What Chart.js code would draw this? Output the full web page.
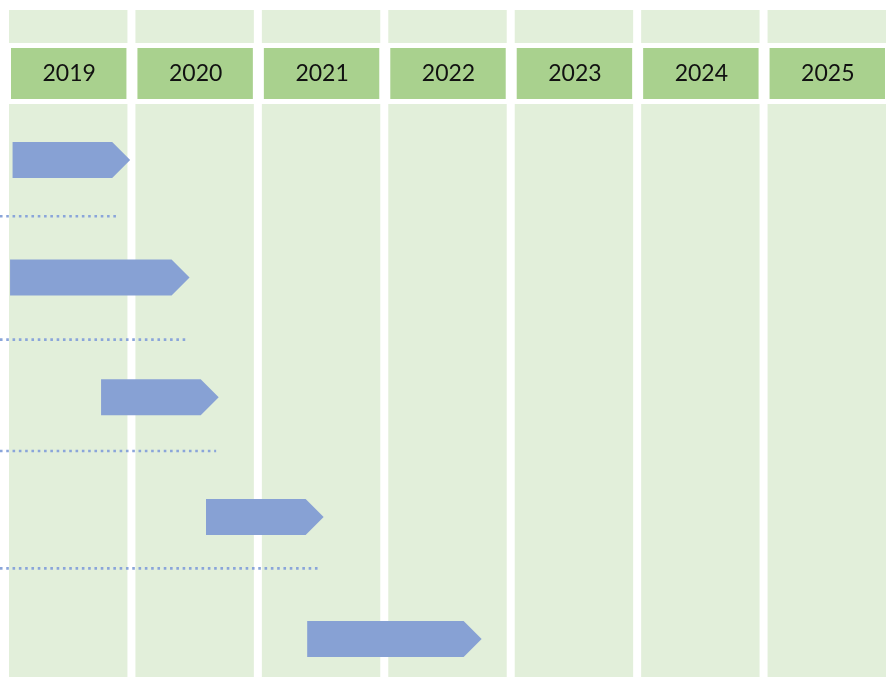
<!DOCTYPE html>
<html>
<head>
<meta charset="utf-8">
<script src="https://cdn.jsdelivr.net/npm/chart.js@4.4.1/dist/chart.umd.min.js"></script>
<style>
  html, body { margin: 0; padding: 0; background: #fff; overflow: hidden; }
  canvas { display: block; }
</style>
</head>
<body>
<canvas id="timeline" width="890" height="677"></canvas>
<script>
// year columns
const years = ['2019', '2020', '2021', '2022', '2023', '2024', '2025'];

// tasks, top to bottom: row position and span in fractional years
const taskRows = [0, 0.98, 1.98, 2.98, 4];
const taskStart = [2019.06, 2019.04, 2019.76, 2020.59, 2021.39];
const taskEnd = [2019.99, 2020.46, 2020.69, 2021.52, 2022.77];

// dotted guide lines between the tasks
const guideRows = [0.47, 1.5, 2.43, 3.41];
const guideStart = [2018.96, 2018.96, 2018.96, 2018.96];
const guideEnd = [2019.88, 2020.44, 2020.67, 2021.5];

const COLUMN_FILL = '#E2EFDA';
const HEADER_FILL = '#A9D18E';
const ARROW_FILL = '#87A1D4';
const GUIDE_COLOR = '#8AA5DA';

// Draws the year columns and header boxes behind everything
const columnsPlugin = {
    id: 'columns',
    beforeDraw(chart) {
        const { ctx, scales: { x } } = chart;
        ctx.save();
        years.forEach(label => {
            const yr = Number(label);
            const left = x.getPixelForValue(yr) + 4;
            const right = x.getPixelForValue(yr + 1) - 4;
            const w = right - left;

            ctx.fillStyle = COLUMN_FILL;
            ctx.fillRect(left, 10, w, 33);
            ctx.fillRect(left, 104, w, chart.height - 104);

            ctx.fillStyle = HEADER_FILL;
            ctx.fillRect(left + 2, 48, w - 3, 51);

            ctx.fillStyle = '#111';
            ctx.font = '23px Lato';
            ctx.textAlign = 'center';
            ctx.textBaseline = 'middle';
            ctx.fillText(label, left + w / 2 + 1, 74);
        });
        ctx.restore();
    }
};

// Turns the (transparent) floating bars into pentagon arrows
const arrowPlugin = {
    id: 'arrows',
    afterDatasetsDraw(chart) {
        const { ctx } = chart;
        chart.data.datasets.forEach((ds, i) => {
            if (ds.type !== 'bar') return;
            const meta = chart.getDatasetMeta(i);
            meta.data.forEach(bar => {
                const { x, y, base, height } = bar.getProps(['x', 'y', 'base', 'height'], true);
                const half = height / 2;
                const neck = x - half;
                ctx.save();
                ctx.fillStyle = ARROW_FILL;
                ctx.beginPath();
                ctx.moveTo(base, y - half);
                ctx.lineTo(neck, y - half);
                ctx.lineTo(x, y);
                ctx.lineTo(neck, y + half);
                ctx.lineTo(base, y + half);
                ctx.closePath();
                ctx.fill();
                ctx.restore();
            });
        });
    }
};

const guideDatasets = guideRows.map((row, i) => ({
    type: 'line',
    data: [{ x: guideStart[i], y: row }, { x: guideEnd[i], y: row }],
    borderColor: GUIDE_COLOR,
    borderWidth: 2.6,
    borderDash: [2.6, 3.7],
    borderCapStyle: 'butt',
    pointRadius: 0,
    fill: false,
    clip: false
}));

const taskDataset = {
    type: 'bar',
    indexAxis: 'y',
    data: taskRows.map((row, i) => ({ x: [taskStart[i], taskEnd[i]], y: row })),
    backgroundColor: 'rgba(0,0,0,0)',
    borderWidth: 0,
    barThickness: 36
};

new Chart(document.getElementById('timeline'), {
    type: 'bar',
    data: { datasets: [...guideDatasets, taskDataset] },
    plugins: [columnsPlugin, arrowPlugin],
    options: {
        responsive: false,
        animation: false,
        devicePixelRatio: 1,
        layout: { padding: { top: 104, left: 5, right: 0, bottom: 0 } },
        scales: {
            x: { type: 'linear', min: 2019, max: 2026, offset: false, display: false },
            y: { type: 'linear', min: -0.468, max: 4.317, offset: false, reverse: true, display: false }
        },
        plugins: {
            legend: { display: false },
            tooltip: { enabled: false }
        }
    }
});
</script>
</body>
</html>
